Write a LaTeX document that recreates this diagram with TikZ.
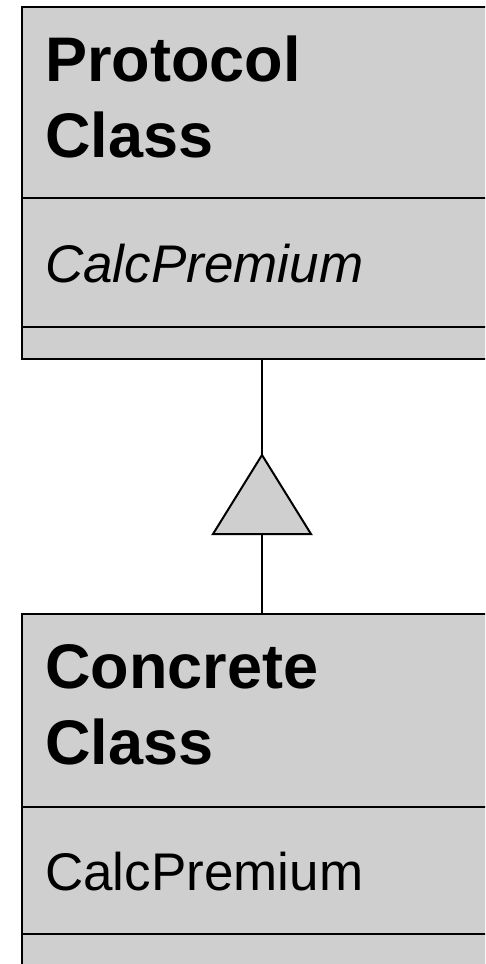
\documentclass[tikz,border=0pt]{standalone}
\usepackage{fontspec}
\setmainfont{Liberation Sans}
\definecolor{classfill}{RGB}{207,207,207}
\begin{document}
\begin{tikzpicture}[x=1pt,y=-1pt,
  compart/.style={draw=black, line width=2pt, fill=classfill},
  titletext/.style={anchor=base west, inner sep=0pt, font=\fontsize{63}{76}\selectfont\bfseries},
  optext/.style={anchor=base west, inner sep=0pt, font=\fontsize{53}{64}\selectfont},
  link/.style={draw=black, line width=2pt}]
\useasboundingbox (0,0) rectangle (485,964);
\clip (0,0) rectangle (485,964);

% Protocol class: name, operations, attributes
\path[compart] (22,7) rectangle (500,359);
\draw[compart, fill=none] (22,198) -- (500,198);
\draw[compart, fill=none] (22,327) -- (500,327);
\node[titletext] (pname1) at (45,81) {Protocol};
\node[titletext] (pname2) at (45,157) {Class};
\node[optext, font=\fontsize{53}{64}\selectfont\itshape] (pop) at (45,282) {CalcPremium};
\coordinate (ptop) at (262,359);

% Concrete class: name, operations, attributes
\path[compart] (22,614) rectangle (500,990);
\draw[compart, fill=none] (22,807) -- (500,807);
\draw[compart, fill=none] (22,934) -- (500,934);
\node[titletext] (cname1) at (45,688) {Concrete};
\node[titletext] (cname2) at (45,764) {Class};
\node[optext] (cop) at (45,890) {CalcPremium};
\coordinate (ctop) at (262,614);

% Generalisation arrow
\coordinate (apex) at (262,455);
\coordinate (bl) at (213,534);
\coordinate (br) at (311,534);
\coordinate (basemid) at (262,534);
\draw[link] (ptop) -- (apex);
\draw[link] (basemid) -- (ctop);
\draw[link, fill=classfill, line join=miter] (apex) -- (br) -- (bl) -- cycle;
\end{tikzpicture}
\end{document}
